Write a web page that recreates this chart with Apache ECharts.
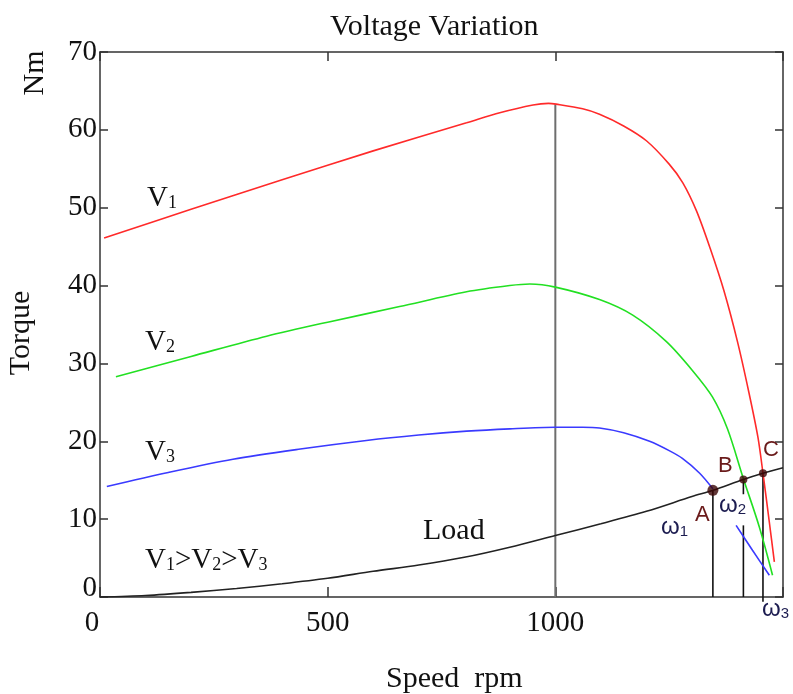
<!DOCTYPE html>
<html>
<head>
<meta charset="utf-8">
<title>Voltage Variation</title>
<script src="https://cdn.jsdelivr.net/npm/echarts@6/dist/echarts.min.js"></script>
<style>
  html, body { margin: 0; padding: 0; background: #fff; }
  #chart { width: 793px; height: 694px; }
</style>
</head>
<body>
<div id="chart"></div>
<script>
  // [speed rpm, torque Nm]
  var v1Curve = [[9, 46.1], [200, 49.8], [400, 53.6], [600, 57.3], [805, 60.9], [878, 62.2], [951, 63.2],
    [985, 63.4], [1002, 63.3], [1060, 62.7], [1097, 62.0], [1150, 60.5], [1200, 58.6], [1250, 55.6], [1280, 53.2],
    [1310, 49.6], [1340, 44.8], [1370, 39.4], [1400, 32.8], [1425, 26.3], [1445, 20.5], [1456, 15.9], [1470, 9.6],
    [1481, 4.5]];
  var v2Curve = [[35, 28.3], [200, 30.9], [366, 33.5], [500, 35.3], [658, 37.3], [805, 39.2], [900, 40.0], [944, 40.2],
    [1000, 39.8], [1097, 38.2], [1170, 36.2], [1244, 32.8], [1301, 29.1], [1345, 25.7], [1378, 21.6], [1413, 15.2],
    [1448, 9.0], [1477, 2.8]];
  var v3Curve = [[15, 14.2], [150, 16.0], [292, 17.7], [440, 19.0], [585, 20.1], [700, 20.8], [805, 21.3], [900, 21.6],
    [1000, 21.8], [1060, 21.8], [1097, 21.7], [1150, 21.1], [1207, 20.0], [1250, 18.8], [1279, 17.8], [1317, 15.9],
    [1346, 13.9]];
  var v3Tail = [[1397, 9.2], [1433, 6.0], [1470, 2.8]];
  var loadCurve = [[0, 0], [100, 0.2], [200, 0.6], [300, 1.1], [400, 1.7], [500, 2.4], [600, 3.3], [700, 4.1],
    [800, 5.1], [900, 6.4], [1000, 7.9], [1100, 9.4], [1200, 11.0], [1300, 12.9], [1346, 13.7], [1413, 15.1],
    [1456, 15.9], [1500, 16.6]];
  var ratedLine = [[1000, 0], [1000, 63.3]];
  // operating points A, B, C and their speed drop lines
  var opPoints = [[1346, 13.7], [1413, 15.1], [1456, 15.9]];
  var w1Line = [[1346, 0], [1346, 13.7]];
  var w2Lower = [[1413, 0], [1413, 9.2]];
  var w2Upper = [[1413, 13.2], [1413, 15.1]];
  var w3Line = [[1456, -0.6], [1456, 15.9]];
  var xTicks = [0, 500, 1000, 1500];
  var yTicks = [0, 10, 20, 30, 40, 50, 60, 70];

  var serif = 'Liberation Serif';
  var sans = 'Liberation Sans';
  var axisColor = '#333';

  function curve(name, data, color) {
    return {
      name: name, type: 'line', data: data, showSymbol: false, symbol: 'none',
      smooth: 0.3,
      lineStyle: { color: color, width: 1.6 }, z: 3
    };
  }
  function stick(data, color, width) {
    return {
      type: 'line', data: data, showSymbol: false, symbol: 'none', clip: false,
      lineStyle: { color: color, width: width }, z: 2
    };
  }
  // label text; odd parts are drawn subscript-sized
  function sText(x, y, parts, size, color, font) {
    var txt = '';
    for (var i = 0; i < parts.length; i++) {
      txt += '{' + (i % 2 ? 's' : 'm') + '|' + parts[i] + '}';
    }
    return {
      type: 'text', x: x, y: y, z: 10,
      style: {
        text: txt, fill: color, verticalAlign: 'middle', align: 'left',
        rich: {
          m: { fontFamily: font, fontSize: size, fill: color, color: color },
          s: { fontFamily: font, fontSize: Math.round(size * 0.62), fill: color, color: color, verticalAlign: 'bottom' }
        }
      }
    };
  }
  function vText(x, y, text) {
    return {
      type: 'text', x: x, y: y, rotation: Math.PI / 2, z: 10,
      style: { text: text, fontFamily: serif, fontSize: 30, fill: '#111', align: 'center', verticalAlign: 'middle' }
    };
  }

  var chart = echarts.init(document.getElementById('chart'));
  chart.setOption({
    animation: false,
    backgroundColor: '#fff',
    grid: { left: 100, right: 10, top: 52, bottom: 97, outerBoundsMode: 'none' },
    xAxis: [{
      type: 'value', min: xTicks[0], max: xTicks[xTicks.length - 1], interval: 500,
      axisLine: { show: true, onZero: false, lineStyle: { color: axisColor, width: 1.5 } },
      axisTick: { inside: true, length: 10, lineStyle: { color: axisColor, width: 1.5 } },
      splitLine: { show: false },
      axisLabel: {
        margin: 12, fontFamily: serif, fontSize: 29, color: '#111',
        formatter: function (v) {
          if (v === 0) return '{z|0}';
          if (v === 1500) return '';
          return String(v);
        },
        rich: { z: { fontFamily: serif, fontSize: 29, color: '#111', padding: [0, 16, 0, 0] } }
      }
    }, {
      type: 'value', position: 'top', min: 0, max: 1500, interval: 500,
      axisLine: { show: true, onZero: false, lineStyle: { color: axisColor, width: 1.5 } },
      axisTick: { inside: true, length: 9, lineStyle: { color: axisColor, width: 1.5 } },
      axisLabel: { show: false }, splitLine: { show: false }
    }],
    yAxis: [{
      type: 'value', min: yTicks[0], max: yTicks[yTicks.length - 1], interval: 10,
      axisLine: { show: true, onZero: false, lineStyle: { color: axisColor, width: 1.5 } },
      axisTick: { inside: true, length: 8, lineStyle: { color: axisColor, width: 1.5 } },
      splitLine: { show: false },
      axisLabel: {
        margin: 3, fontFamily: serif, fontSize: 29, color: '#111',
        formatter: function (v) { return v === 0 ? '{z|0}' : String(v); },
        rich: { z: { fontFamily: serif, fontSize: 29, color: '#111', padding: [0, 0, 18, 0] } }
      }
    }, {
      type: 'value', position: 'right', min: 0, max: 70, interval: 10,
      axisLine: { show: true, onZero: false, lineStyle: { color: axisColor, width: 1.5 } },
      axisTick: { inside: true, length: 8, lineStyle: { color: axisColor, width: 1.5 } },
      axisLabel: { show: false }, splitLine: { show: false }
    }],
    series: [
      stick(ratedLine, '#6e6e6e', 2),
      curve('V1', v1Curve, '#ff2a2a'),
      curve('V2', v2Curve, '#22e022'),
      curve('V3', v3Curve, '#3a3aff'),
      curve('V3 tail', v3Tail, '#3a3aff'),
      curve('Load', loadCurve, '#222'),
      stick(w1Line, '#111', 1.6),
      stick(w2Lower, '#111', 1.6),
      stick(w2Upper, '#111', 1.6),
      stick(w3Line, '#111', 1.6),
      {
        type: 'scatter', data: opPoints, z: 5,
        symbolSize: function (val, p) { return p.dataIndex === 0 ? 11 : 8; },
        itemStyle: { color: '#3a0505' }
      }
    ],
    graphic: [
      sText(330, 27, ['Voltage Variation'], 30, '#111', serif),
      vText(21, 333, 'Torque'),
      vText(35, 73, 'Nm'),
      sText(147, 198, ['V', '1'], 29, '#111', serif),
      sText(145, 342, ['V', '2'], 29, '#111', serif),
      sText(145, 452, ['V', '3'], 29, '#111', serif),
      sText(145, 560, ['V', '1', '>V', '2', '>V', '3'], 29, '#111', serif),
      sText(423, 531, ['Load'], 30, '#111', serif),
      sText(386, 679, ['Speed  rpm'], 30, '#111', serif),
      sText(695, 515, ['A'], 22, '#6a1a1a', sans),
      sText(718, 466, ['B'], 22, '#6a1a1a', sans),
      sText(763, 450, ['C'], 22, '#6a1a1a', sans),
      sText(661, 527, ['ω', '1'], 24, '#1c1c50', sans),
      sText(719, 505, ['ω', '2'], 24, '#1c1c50', sans),
      sText(762, 609, ['ω', '3'], 24, '#1c1c50', sans)
    ]
  });
</script>
</body>
</html>
